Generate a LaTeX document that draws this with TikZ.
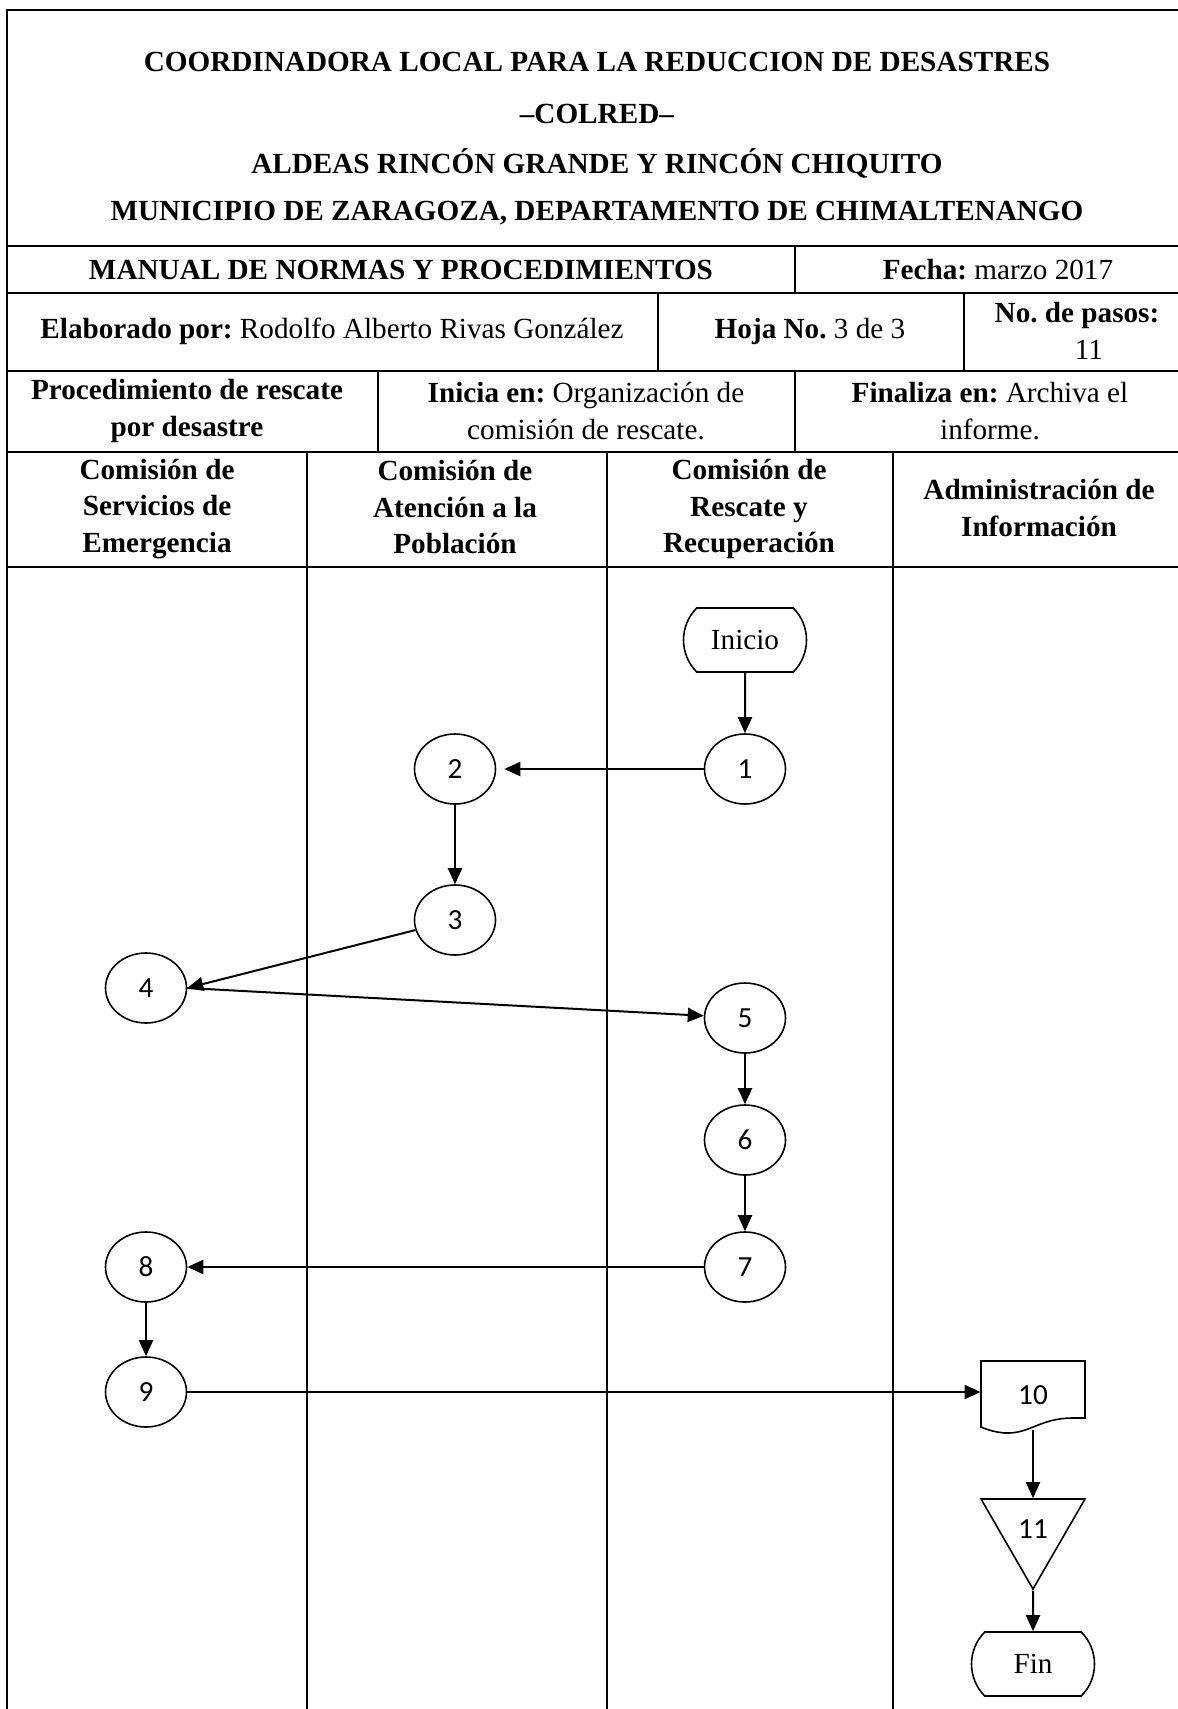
\documentclass[tikz,border=0pt]{standalone}
\usepackage{fontspec}
\setmainfont{Liberation Serif}
\newfontfamily\numfont{Carlito}
\frenchspacing
\usetikzlibrary{arrows.meta,shapes.geometric,shapes.misc}
\tikzset{every picture/.style={x=.5pt,y=-.5pt}}
\tikzset{grid/.style={line width=1pt}}
\tikzset{txt/.style={align=center,inner sep=0pt,font=\fontsize{14.6}{18.3}\selectfont}}
\tikzset{stepnode/.style={ellipse,draw,line width=.8pt,minimum width=40.5pt,minimum height=35pt,inner sep=0pt,font=\numfont\fontsize{14.6}{17}\selectfont}}
\tikzset{term/.style={rounded rectangle,rounded rectangle arc length=90,draw,line width=.8pt,minimum width=61.5pt,minimum height=32pt,inner sep=0pt,font=\fontsize{14.6}{17}\selectfont}}
\tikzset{docbox/.style={rectangle,minimum width=52pt,minimum height=34.5pt,inner sep=0pt,font=\numfont\fontsize{14.6}{17}\selectfont}}
\tikzset{trinode/.style={regular polygon,regular polygon sides=3,shape border rotate=180,draw,line width=.8pt,minimum size=60pt,inner sep=0pt,font=\numfont\fontsize{14.6}{17}\selectfont}}
\tikzset{edge/.style={-{Triangle[length=8pt,width=7pt]},line width=1pt}}

\begin{document}
\begin{tikzpicture}
\clip (0,0) rectangle (1178,1709);

% table
\draw [grid] (7,1720) -- (7,10) -- (1192,10) -- (1192,1720);
\draw [grid] (7,246) -- (1192,246);
\draw [grid] (7,293) -- (1192,293);
\draw [grid] (7,371) -- (1192,371);
\draw [grid] (7,452) -- (1192,452);
\draw [grid] (7,567) -- (1192,567);
\draw [grid] (795,246) -- (795,293);
\draw [grid] (658,293) -- (658,371);
\draw [grid] (964,293) -- (964,371);
\draw [grid] (378,371) -- (378,452);
\draw [grid] (795,371) -- (795,452);
\draw [grid] (307,452) -- (307,1720);
\draw [grid] (607,452) -- (607,1720);
\draw [grid] (893,452) -- (893,1720);

\node [txt] (title1) at (597,62) {\textbf{COORDINADORA LOCAL PARA LA REDUCCION DE DESASTRES}};
\node [txt] (title2) at (597,114) {\textbf{–COLRED–}};
\node [txt] (title3) at (597,163) {\textbf{ALDEAS RINCÓN GRANDE Y RINCÓN CHIQUITO}};
\node [txt] (title4) at (597,213) {\textbf{MUNICIPIO DE ZARAGOZA, DEPARTAMENTO DE CHIMALTENANGO}};

\node [txt] (manual) at (401,270) {\textbf{MANUAL DE NORMAS Y PROCEDIMIENTOS}};
\node [txt] (fecha) at (998,270) {\textbf{Fecha:} marzo 2017};
\node [txt] (autor) at (332,331) {\textbf{Elaborado por:} Rodolfo Alberto Rivas González};
\node [txt] (hoja) at (810,331) {\textbf{Hoja No.} 3 de 3};
\node [txt] (pasos) at (1077,331) {\textbf{No. de pasos:}\\\hspace*{12pt}11};
\node [txt] (proc) at (187,411) {\textbf{Procedimiento de rescate}\\\textbf{por desastre}};
\node [txt] (inicia) at (586,411) {\textbf{Inicia en:} Organización de\\comisión de rescate.};
\node [txt] (finaliza) at (990,411) {\textbf{Finaliza en:} Archiva el\\informe.};

\node [txt] (lane1) at (157,509) {\textbf{Comisión de}\\\textbf{Servicios de}\\\textbf{Emergencia}};
\node [txt] (lane2) at (455,507) {\textbf{Comisión de}\\\textbf{Atención a la}\\\textbf{Población}};
\node [txt] (lane3) at (749,509) {\textbf{Comisión de}\\\textbf{Rescate y}\\\textbf{Recuperación}};
\node [txt] (lane4) at (1039,508) {\textbf{Administración de}\\\textbf{Información}};

% flow
\node [term] (ini) at (745,640) {Inicio};
\node [stepnode] (n1) at (745,769) {1};
\node [stepnode] (n2) at (455,769) {2};
\node [stepnode] (n3) at (455,920) {3};
\node [stepnode] (n4) at (146,988) {4};
\node [stepnode] (n5) at (745,1018) {5};
\node [stepnode] (n6) at (745,1140) {6};
\node [stepnode] (n7) at (745,1267) {7};
\node [stepnode] (n8) at (146,1267) {8};
\node [stepnode] (n9) at (146,1392) {9};
\node [docbox] (n10) at (1033,1395) {10};
\node [trinode] (n11) at (1033,1529) {11};
\node [term] (fin) at (1033,1664) {Fin};

\draw [line width=.8pt] (1085,1418) -- (1085,1361) -- (981,1361) -- (981,1427)
  .. controls (986,1429) and (993,1432) .. (1005,1433)
  .. controls (1030,1434) and (1040,1418) .. (1073,1418) -- cycle;

\draw [edge] (ini) -- (n1);
\draw [edge,shorten >=4pt] (n1) -- (n2);
\draw [edge] (n2) -- (n3);
\draw [edge] (n3) -- (n4.east);
\draw [edge] (n4.east) -- (n5);
\draw [edge] (n5) -- (n6);
\draw [edge] (n6) -- (n7);
\draw [edge] (n7) -- (n8);
\draw [edge] (n8) -- (n9);
\draw [edge] (n9) -- (n9 -| n10.west);
\draw [edge] (n10) -- (n11);
\draw [edge] (n11) -- (fin);
\end{tikzpicture}
\end{document}
